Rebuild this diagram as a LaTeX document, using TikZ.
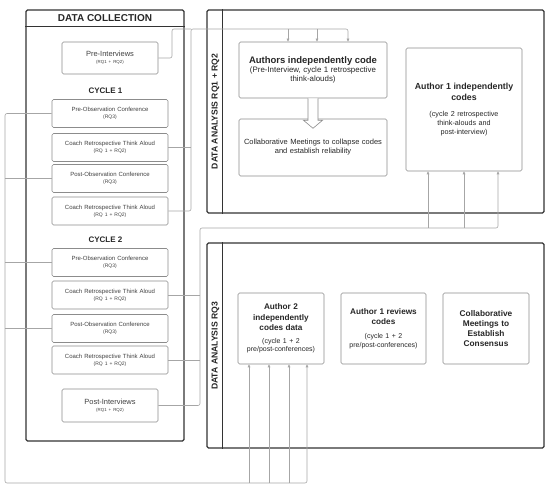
\documentclass[tikz,border=0pt]{standalone}
\usepackage{fontspec}
\setmainfont{Liberation Sans}
\usetikzlibrary{arrows.meta,calc}
\begin{document}
\begin{tikzpicture}[x=1pt,y=-1pt,
  bigbox/.style={draw=black!80, line width=1.1pt, rounded corners=1.5pt, inner sep=0pt},
  bigline/.style={draw=black!80, line width=1.1pt},
  ibox/.style={draw=black!45, line width=0.6pt, rounded corners=1.5pt, align=center, inner sep=1pt, text width=112pt, text=black!75, font=\fontsize{6}{7.2}\selectfont, minimum width=116pt, minimum height=28pt},
  abox/.style={draw=black!45, line width=0.6pt, rounded corners=1.5pt, align=center, inner sep=1pt, text=black!85, font=\fontsize{7.5}{9}\selectfont},
  hdr/.style={font=\bfseries\fontsize{10}{11}\selectfont, text=black!85},
  vlab/.style={font=\bfseries\fontsize{8.6}{10}\selectfont, rotate=90, text=black!85},
  conn/.style={draw=black!35, line width=0.6pt, rounded corners=2pt},
  arr/.style={conn, -{Triangle[length=3pt,width=2.6pt]}}
]
\useasboundingbox (0,0) rectangle (550,489);
\newcommand{\smallq}[1]{{\fontsize{5}{6}\selectfont #1}}
\newcommand{\tinyq}[1]{{\fontsize{4.4}{5.2}\selectfont #1}}

% ---------- Data collection ----------
\node[bigbox, minimum width=158pt, minimum height=431pt] (dc) at (105,225.5) {};
\draw[bigline] ($(dc.north west)+(0,17)$) -- ($(dc.north east)+(0,17)$);
\node[hdr] (dct) at (105,18.5) {DATA COLLECTION};

\node[ibox, text width=92pt, minimum width=96pt, minimum height=32pt] (preint) at (110,58) {{\fontsize{7.5}{9}\selectfont Pre-Interviews}\\\tinyq{(RQ1 + RQ2)}};
\node[hdr, font=\bfseries\fontsize{8}{9}\selectfont] (cyc1) at (105.5,91) {CYCLE 1};
\node[ibox] (po1) at (110,113.5) {Pre-Observation Conference\\\smallq{(RQ3)}};
\node[ibox] (cr1) at (110,147.5) {Coach Retrospective Think Aloud\\\smallq{(RQ 1 + RQ2)}};
\node[ibox] (pp1) at (110,178.5) {Post-Observation Conference\\\smallq{(RQ3)}};
\node[ibox] (cr1b) at (110,211) {Coach Retrospective Think Aloud\\\smallq{(RQ 1 + RQ2)}};
\node[hdr, font=\bfseries\fontsize{8}{9}\selectfont] (cyc2) at (105.5,240) {CYCLE 2};
\node[ibox] (po2) at (110,262.5) {Pre-Observation Conference\\\smallq{(RQ3)}};
\node[ibox] (cr2) at (110,295) {Coach Retrospective Think Aloud\\\smallq{(RQ 1 + RQ2)}};
\node[ibox] (pp2) at (110,328.5) {Post-Observation Conference\\\smallq{(RQ3)}};
\node[ibox] (cr2b) at (110,360) {Coach Retrospective Think Aloud\\\smallq{(RQ 1 + RQ2)}};
\node[ibox, text width=92pt, minimum width=96pt, minimum height=33pt] (postint) at (110,405.5) {{\fontsize{7.5}{9}\selectfont Post-Interviews}\\\tinyq{(RQ1 + RQ2)}};

% ---------- Data analysis RQ1 + RQ2 ----------
\node[bigbox, minimum width=337pt, minimum height=203pt] (rq12) at (375.5,111.5) {};
\draw[bigline] ($(rq12.north west)+(16,0)$) -- ($(rq12.south west)+(16,0)$);
\node[vlab] (rq12t) at (215.5,111.5) {DATA ANALYSIS RQ1 + RQ2};

\node[abox, text width=146pt, minimum width=148pt, minimum height=56pt] (auth) at (313,70)
  {{\bfseries\fontsize{9.5}{11}\selectfont Authors independently code\par}{\fontsize{7.9}{8.8}\selectfont (Pre-Interview, cycle 1 retrospective\\think-alouds)\par}};
\node[abox, text width=146pt, minimum width=148pt, minimum height=57pt] (collab) at (313,147.5)
  {Collaborative Meetings to collapse codes\\and establish reliability};
\node[abox, text width=114pt, minimum width=116pt, minimum height=123pt] (a1) at (464,109.5)
  {{\bfseries\fontsize{8.8}{10.4}\selectfont Author 1 independently\\codes\par}\vspace{8pt}{\fontsize{7.2}{8.7}\selectfont (cycle 2 retrospective\\think-alouds and\\post-interview)\par}};

\draw[draw=black!45, line width=0.6pt, fill=white, line join=miter]
  ([xshift=-5pt]auth.south) -- ++(0,22) -- ++(-4.5,0) -- ++(9.5,8) -- ++(9.5,-8) -- ++(-4.5,0) -- ([xshift=5pt]auth.south);

% ---------- Data analysis RQ3 ----------
\node[bigbox, minimum width=337pt, minimum height=205pt] (rq3) at (375.5,345.5) {};
\draw[bigline] ($(rq3.north west)+(16,0)$) -- ($(rq3.south west)+(16,0)$);
\node[vlab] (rq3t) at (215.5,346) {DATA ANALYSIS RQ3};

\node[abox, text width=84pt, minimum width=84pt, minimum height=71pt] (a2) at (281,328.5)
  {{\bfseries\fontsize{8.2}{10.2}\selectfont Author 2\\independently\\codes data\par}\vspace{5pt}{\fontsize{7}{8.2}\selectfont (cycle 1 + 2\\pre/post-conferences)\par}};
\node[abox, text width=83pt, minimum width=83pt, minimum height=71pt] (a1r) at (383.5,328.5)
  {{\bfseries\fontsize{8.2}{10.2}\selectfont Author 1 reviews\\codes\par}\vspace{6pt}{\fontsize{7}{8.2}\selectfont (cycle 1 + 2\\pre/post-conferences)\par}};
\node[abox, text width=84pt, minimum width=84pt, minimum height=71pt] (cons) at (486,328.5)
  {{\bfseries\fontsize{8.3}{10.2}\selectfont Collaborative\\Meetings to\\Establish\\Consensus\par}};

% ---------- connectors: top bus ----------
\coordinate (pA) at (172,29);
\coordinate (busA) at (191,29);
\coordinate (t1) at (288,29);
\coordinate (t2) at (317,29);
\coordinate (t3) at (348,29);
\draw[conn] (preint.east) -- (preint.east -| pA) -- (pA) -- (busA);
\draw[conn] (cr1.east) -- (cr1.east -| busA);
\draw[arr] (cr1b.east) -- (cr1b.east -| busA) -- (busA) -- (t3) -- (t3 |- auth.north);
\draw[arr] (t1) -- (t1 |- auth.north);
\draw[arr] (t2) -- (t2 |- auth.north);

% ---------- connectors: right bus to Author 1 ----------
\coordinate (busB) at (200,228);
\coordinate (r1) at (428,228);
\coordinate (r2) at (464,228);
\coordinate (r3) at (498,228);
\draw[conn] (cr2.east) -- (cr2.east -| busB);
\draw[conn] (cr2b.east) -- (cr2b.east -| busB);
\draw[arr] (postint.east) -- (postint.east -| busB) -- (busB) -- (r3) -- (r3 |- a1.south);
\draw[arr] (r1) -- (r1 |- a1.south);
\draw[arr] (r2) -- (r2 |- a1.south);

% ---------- connectors: left bus to Author 2 ----------
\coordinate (busC) at (5,483);
\coordinate (b1) at (249,483);
\coordinate (b2) at (269,483);
\coordinate (b3) at (289,483);
\coordinate (b4) at (307,483);
\draw[conn] (pp1.west) -- (pp1.west -| busC);
\draw[conn] (po2.west) -- (po2.west -| busC);
\draw[conn] (pp2.west) -- (pp2.west -| busC);
\draw[arr] (po1.west) -- (po1.west -| busC) -- (busC) -- (b4) -- (b4 |- a2.south);
\draw[arr] (b1) -- (b1 |- a2.south);
\draw[arr] (b2) -- (b2 |- a2.south);
\draw[arr] (b3) -- (b3 |- a2.south);
\end{tikzpicture}
\end{document}
